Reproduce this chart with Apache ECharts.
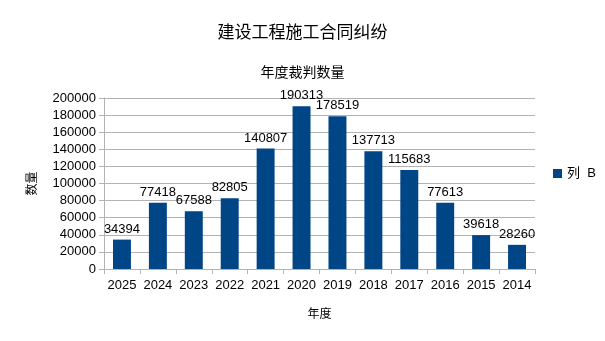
<!DOCTYPE html>
<html><head><meta charset="utf-8">
<script src="https://cdn.jsdelivr.net/npm/echarts@6/dist/echarts.min.js"></script>
<style>html,body{margin:0;padding:0;background:#fff}#c{width:605px;height:341px}</style>
</head><body><div id="c"></div>
<script>
var categories = ['2025','2024','2023','2022','2021','2020','2019','2018','2017','2016','2015','2014'];
var values = [34394, 77418, 67588, 82805, 140807, 190313, 178519, 137713, 115683, 77613, 39618, 28260];
var seriesName = '列 B';
var titleText = '建设工程施工合同纠纷';
var subtitleText = '年度裁判数量';
var xName = '年度';
var yName = '数量';
var ff = '"Liberation Sans", "Noto Sans CJK SC", sans-serif';
var chart = echarts.init(document.getElementById('c'), null, {renderer:'canvas'});
chart.setOption({
  animation: false,
  backgroundColor: '#fff',
  title: [
    {text: titleText, left: 'center', top: 20, textStyle: {fontFamily: ff, fontSize: 17, fontWeight: 'normal', color: '#000'}},
    {text: subtitleText, left: 'center', top: 61, textStyle: {fontFamily: ff, fontSize: 14, fontWeight: 'normal', color: '#000'}}
  ],
  legend: {
    orient: 'vertical', left: 548, top: 162, itemWidth: 9, itemHeight: 9, itemGap: 5,
    icon: 'rect',
    textStyle: {fontFamily: ff, fontSize: 13, color: '#000'},
    formatter: function (n) { return n.replace(' ', '  '); },
    data: [seriesName]
  },
  grid: {left: 104, right: 70, top: 98, bottom: 72, containLabel: false},
  xAxis: {
    type: 'category', data: categories,
    name: xName, nameLocation: 'middle', nameGap: 40,
    nameTextStyle: {fontFamily: ff, fontSize: 12, color: '#000'},
    axisLine: {lineStyle: {color: '#b3b3b3'}},
    axisTick: {show: true, alignWithLabel: false, length: 5, lineStyle: {color: '#b3b3b3'}},
    axisLabel: {fontFamily: ff, fontSize: 13, color: '#000', margin: 10, interval: 0}
  },
  yAxis: {
    type: 'value', min: 0, max: 200000, interval: 20000,
    name: yName, nameLocation: 'middle', nameGap: 65, nameRotate: 90,
    nameTextStyle: {fontFamily: ff, fontSize: 12, color: '#000'},
    axisLine: {show: true, lineStyle: {color: '#b3b3b3'}},
    axisTick: {show: true, length: 5, lineStyle: {color: '#b3b3b3'}},
    axisLabel: {fontFamily: ff, fontSize: 13, color: '#000', margin: 8, formatter: function (v) { return String(v); }},
    splitLine: {lineStyle: {color: '#b3b3b3'}}
  },
  series: [{
    name: seriesName, type: 'bar', data: values,
    barWidth: '50%',
    itemStyle: {color: '#004586'},
    label: {show: true, position: 'top', distance: 4, fontFamily: ff, fontSize: 13, color: '#000'}
  }]
});
</script></body></html>
